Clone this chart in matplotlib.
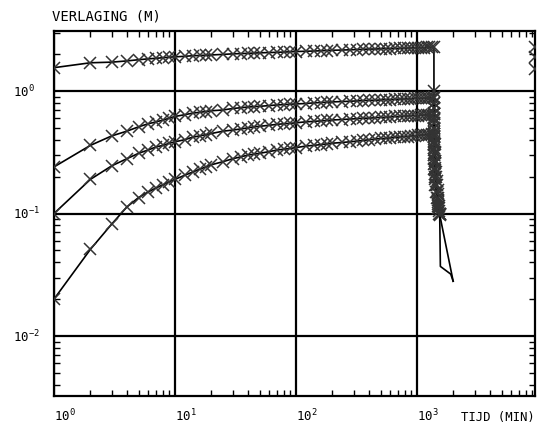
import numpy as np
import matplotlib
matplotlib.use("Agg")
import matplotlib.pyplot as plt
from matplotlib.ticker import LogLocator, FixedLocator, NullFormatter

plt.rcParams['font.family'] = ['DejaVu Sans Mono']
plt.rcParams['mathtext.default'] = 'regular'

# ---- data (time in minutes, drawdown in m) ----
t_pump = [1, 2, 3, 4, 5, 6, 7, 8, 9, 10, 12, 14, 16, 18, 20, 25, 30, 35, 40, 45, 50,
          60, 70, 80, 90, 100, 120, 140, 160, 180, 200, 240, 280, 320, 360, 400, 450,
          500, 550, 600, 660, 720, 780, 840, 900, 960, 1020, 1080, 1140, 1200, 1260,
          1320, 1380]

s1_pump = [1.55, 1.70, 1.72, 1.76, 1.80, 1.83, 1.85, 1.87, 1.89, 1.90, 1.92, 1.94, 1.95,
           1.96, 1.97, 1.99, 2.01, 2.02, 2.03, 2.04, 2.05, 2.06, 2.07, 2.08, 2.09, 2.10,
           2.11, 2.12, 2.13, 2.14, 2.15, 2.16, 2.17, 2.18, 2.19, 2.20, 2.20, 2.21, 2.22,
           2.22, 2.23, 2.23, 2.24, 2.24, 2.25, 2.25, 2.26, 2.26, 2.26, 2.27, 2.27, 2.28,
           2.28]
s2_pump = [0.24, 0.36, 0.43, 0.47, 0.51, 0.54, 0.56, 0.58, 0.60, 0.62, 0.64, 0.66, 0.67,
           0.68, 0.69, 0.70, 0.72, 0.73, 0.74, 0.745, 0.75, 0.76, 0.77, 0.775, 0.78, 0.785,
           0.79, 0.80, 0.805, 0.81, 0.815, 0.82, 0.825, 0.83, 0.835, 0.84, 0.84, 0.845,
           0.85, 0.85, 0.855, 0.86, 0.86, 0.865, 0.865, 0.87, 0.87, 0.87, 0.875, 0.875,
           0.88, 0.88, 0.88]
s3_pump = [0.10, 0.19, 0.245, 0.28, 0.31, 0.33, 0.35, 0.36, 0.375, 0.385, 0.40, 0.42,
           0.43, 0.44, 0.45, 0.47, 0.48, 0.49, 0.50, 0.51, 0.515, 0.525, 0.535, 0.54,
           0.545, 0.55, 0.56, 0.565, 0.57, 0.575, 0.58, 0.585, 0.59, 0.595, 0.60, 0.60,
           0.605, 0.61, 0.61, 0.615, 0.62, 0.62, 0.625, 0.625, 0.63, 0.63, 0.63, 0.635,
           0.635, 0.64, 0.64, 0.64, 0.645]
s4_pump = [0.020, 0.051, 0.082, 0.113, 0.135, 0.15, 0.162, 0.172, 0.182, 0.19, 0.205,
           0.218, 0.23, 0.24, 0.25, 0.265, 0.28, 0.29, 0.30, 0.305, 0.31, 0.32, 0.33,
           0.335, 0.34, 0.345, 0.355, 0.36, 0.365, 0.37, 0.375, 0.38, 0.385, 0.39, 0.395,
           0.40, 0.405, 0.41, 0.41, 0.415, 0.42, 0.42, 0.425, 0.425, 0.43, 0.43, 0.435,
           0.435, 0.44, 0.44, 0.44, 0.445, 0.445]

t_rec = [1381, 1382, 1383, 1384, 1385, 1387, 1390, 1395, 1400, 1410, 1420, 1440, 1460,
         1480, 1500, 1520, 1540]
s1_rec = [1.00, 0.90, 0.80, 0.72, 0.65, 0.58, 0.50, 0.43, 0.37, 0.31, 0.27, 0.22, 0.185,
          0.155, 0.135, 0.115, 0.10]
s2_rec = [0.80, 0.72, 0.66, 0.60, 0.55, 0.49, 0.43, 0.37, 0.32, 0.27, 0.235, 0.20, 0.17,
          0.145, 0.125, 0.11, 0.10]
s3_rec = [0.60, 0.55, 0.50, 0.46, 0.42, 0.38, 0.34, 0.30, 0.26, 0.225, 0.20, 0.17, 0.15,
          0.13, 0.115, 0.105, 0.10]
s4_rec = [0.42, 0.39, 0.36, 0.33, 0.30, 0.28, 0.255, 0.23, 0.21, 0.19, 0.17, 0.15, 0.135,
          0.12, 0.11, 0.10, 0.098]

t_tail3 = [1540, 1560, 1900, 1990]
s_tail3 = [0.10, 0.037, 0.032, 0.028]
t_tail4 = [1540, 1990]
s_tail4 = [0.098, 0.028]

t_edge = [9400, 9400, 9400]
s_edge = [2.30, 1.90, 1.50]

x_ticks = [1, 10, 100, 1000]
x_tick_labels = ['$10^{0}$', '$10^{1}$', '$10^{2}$', '$10^{3}$']
y_ticks = [0.01, 0.1, 1]
y_tick_labels = ['$10^{-2}$', '$10^{-1}$', '$10^{0}$']

# ---- figure ----
W, H = 537, 427
fig = plt.figure(figsize=(W / 100, H / 100), dpi=100)
ax = fig.add_axes([54 / W, 1 - 397 / H, (535 - 54) / W, (397 - 32) / H])
ax.set_xscale('log')
ax.set_yscale('log')
ax.set_xlim(1, 10 ** ((535 - 54) / 121))
ax.set_ylim(10 ** ((92 - 397) / 122.5), 10 ** ((92 - 32) / 122.5))

mcol = '0.2'
series = [(s1_pump, s1_rec), (s2_pump, s2_rec), (s3_pump, s3_rec), (s4_pump, s4_rec)]
for sp, sr in series:
    tt = t_pump + t_rec
    ss = sp + sr
    ax.plot(tt, ss, color='black', lw=1.2, zorder=3)
    ax.plot(tt, ss, linestyle='none', marker='x', ms=8.5, mew=1.1, color=mcol, zorder=4)

ax.plot(t_tail3, s_tail3, color='black', lw=1.2, zorder=3)
ax.plot(t_tail4, s_tail4, color='black', lw=1.2, zorder=3)
ax.plot(t_edge, s_edge, linestyle='none', marker='x', ms=8.5, mew=1.1, color=mcol,
        zorder=4)

# grid at decades
ax.xaxis.set_major_locator(FixedLocator(x_ticks))
ax.yaxis.set_major_locator(FixedLocator(y_ticks))
ax.xaxis.set_minor_locator(LogLocator(base=10, subs=np.arange(2, 10)))
ax.yaxis.set_minor_locator(LogLocator(base=10, subs=np.arange(2, 10)))
ax.xaxis.set_minor_formatter(NullFormatter())
ax.yaxis.set_minor_formatter(NullFormatter())
ax.set_xticklabels(x_tick_labels)
ax.set_yticklabels(y_tick_labels)
ax.grid(True, which='major', color='black', lw=1.6)

for sp in ax.spines.values():
    sp.set_linewidth(1.6)

ax.tick_params(which='major', length=0, labelsize=9)
ax.tick_params(which='minor', direction='in', length=4, width=1.0,
               top=True, right=True, bottom=True, left=True)
ax.tick_params(axis='y', which='major', pad=29.5)
ax.tick_params(axis='x', which='major', pad=8)
for lab in ax.get_yticklabels():
    lab.set_horizontalalignment('left')
    lab.set_verticalalignment('center')
for lab in ax.get_xticklabels():
    lab.set_horizontalalignment('left')

fig.text(52 / W, 1 - 17 / H, 'VERLAGING (M)', ha='left', va='center', fontsize=10)
fig.text(461 / W, 1 - 418 / H, 'TIJD (MIN)', ha='left', va='center', fontsize=8.8)

fig.savefig('out.png', dpi=100)
